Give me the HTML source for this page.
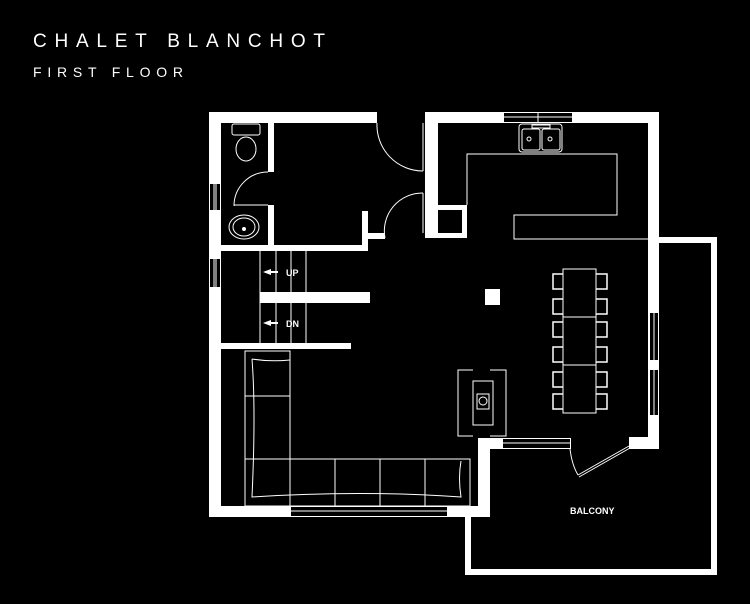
<!DOCTYPE html>
<html><head><meta charset="utf-8"><style>
html,body{margin:0;padding:0;background:#000;}
svg{display:block;}
text{font-family:"Liberation Sans",sans-serif;fill:#fff;}
</style></head><body>
<svg width="750" height="604" viewBox="0 0 750 604" xmlns="http://www.w3.org/2000/svg">
<rect width="750" height="604" fill="#000"/>
<text x="33" y="47" font-size="19" textLength="292" lengthAdjust="spacing">CHALET BLANCHOT</text>
<text x="33" y="77" font-size="14" textLength="150" lengthAdjust="spacing">FIRST FLOOR</text>

<g fill="#fff">
<!-- outer walls -->
<rect x="209" y="112" width="168" height="11"/>
<rect x="425" y="112" width="234" height="11"/>
<rect x="209" y="112" width="12" height="405"/>
<rect x="648" y="112" width="11" height="337"/>
<rect x="209" y="506" width="281" height="11"/>
<rect x="478" y="438" width="12" height="79"/>
<rect x="478" y="438" width="24" height="11"/>
<rect x="629" y="437" width="30" height="12"/>
<!-- balcony -->
<rect x="659" y="237" width="58" height="6"/>
<rect x="711" y="237" width="6" height="338"/>
<rect x="465" y="569" width="252" height="6"/>
<rect x="465" y="517" width="6" height="58"/>
<!-- interior -->
<rect x="268" y="123" width="6" height="49"/>
<rect x="268" y="205" width="6" height="40"/>
<rect x="221" y="245" width="147" height="6"/>
<rect x="362" y="211" width="6" height="40"/>
<rect x="362" y="233" width="23" height="6"/>
<rect x="425" y="123" width="13" height="115"/>
<rect x="425" y="233" width="42" height="5"/>
<rect x="462" y="205" width="5" height="33"/>
<rect x="438" y="205" width="29" height="5"/>
<rect x="260" y="292" width="110" height="11"/>
<rect x="221" y="343" width="130" height="6"/>
<rect x="485" y="289" width="15" height="16"/>
</g>
<!-- windows (black cut with lines) -->
<g fill="#000" stroke="#fff" stroke-width="1">
<rect x="209.5" y="183.5" width="11" height="27"/>
<rect x="209.5" y="258.5" width="11" height="29"/>
<rect x="503.5" y="112.5" width="69" height="10"/>
<rect x="649.5" y="312.5" width="9" height="48"/>
<rect x="649.5" y="369.5" width="9" height="46"/>
<rect x="290.5" y="506.5" width="157" height="10"/>
<rect x="502.5" y="438.5" width="68" height="10"/>
</g>
<g stroke="#fff" stroke-width="1" fill="none">
<line x1="214" y1="184" x2="214" y2="210"/><line x1="216" y1="184" x2="216" y2="210"/>
<line x1="214" y1="259" x2="214" y2="287"/><line x1="216" y1="259" x2="216" y2="287"/>
<line x1="504" y1="117" x2="572" y2="117"/><line x1="538" y1="112" x2="538" y2="123"/>
<line x1="654" y1="313" x2="654" y2="360"/><line x1="654" y1="370" x2="654" y2="415"/>
<line x1="291" y1="511" x2="447" y2="511"/>
<line x1="503" y1="443" x2="570" y2="443"/>
<!-- doors -->
<path d="M377 123 A46 46 0 0 0 423 171"/><line x1="423" y1="123" x2="423" y2="171"/>
<path d="M385 238 A38 38 0 0 1 423 193"/><line x1="423" y1="193" x2="423" y2="233"/>
<path d="M268 172 A34 34 0 0 0 234 206"/><line x1="234" y1="205" x2="268" y2="205"/>
<path d="M570 449 Q572 465 578 475"/><line x1="578" y1="475" x2="629" y2="446"/><line x1="579" y1="477" x2="630" y2="448"/>
<!-- bathroom -->
<rect x="232" y="124" width="28" height="11" rx="2"/>
<ellipse cx="246" cy="149" rx="10" ry="12"/>
<ellipse cx="244" cy="227" rx="15" ry="12"/><ellipse cx="244" cy="227" rx="11" ry="9"/>
<circle cx="244" cy="229" r="1.5" fill="#fff"/>
<!-- stairs -->
<line x1="260" y1="251" x2="260" y2="343"/><line x1="276" y1="251" x2="276" y2="343"/>
<line x1="291" y1="251" x2="291" y2="343"/><line x1="306" y1="251" x2="306" y2="343"/>
<!-- kitchen -->
<polyline points="467,205 467,154 617,154 617,215 514,215 514,239 648,239"/>
<rect x="519" y="124" width="43" height="28" rx="3"/>
<rect x="522" y="129" width="18" height="21" rx="2"/><rect x="542" y="129" width="18" height="21" rx="2"/>
<rect x="532" y="125" width="18" height="3"/>
<circle cx="529" cy="139" r="2"/><circle cx="550" cy="139" r="2"/>
<!-- dining -->
<rect x="563" y="269" width="33" height="144"/>
<line x1="563" y1="317" x2="596" y2="317"/><line x1="563" y1="365" x2="596" y2="365"/>
<!-- sofa -->
<rect x="245" y="351" width="45" height="155"/>
<rect x="245" y="459" width="225" height="47"/>
<line x1="245" y1="396" x2="290" y2="396"/>
<line x1="335" y1="459" x2="335" y2="506"/><line x1="380" y1="459" x2="380" y2="506"/><line x1="425" y1="459" x2="425" y2="506"/>
<path d="M252 359 Q256 410 252 497 Q360 490 461 497 Q458 478 461 461"/>
<path d="M252 359 Q270 362 290 360"/>
<!-- fireplace -->
<path d="M473 370 H458 V436 H473 M490 370 H506 V436 H490"/>
<rect x="473" y="381" width="20" height="44"/>
<rect x="477" y="394" width="12" height="15"/>
<circle cx="483" cy="401" r="4"/>
</g>
<g fill="none" stroke="#fff" stroke-width="1.5">
<path d="M563 274 H553 V289 H563"/><path d="M563 299 H553 V314 H563"/><path d="M563 322 H553 V337 H563"/>
<path d="M563 347 H553 V362 H563"/><path d="M563 372 H553 V387 H563"/><path d="M563 394 H553 V409 H563"/>
<path d="M596 274 H607 V289 H596"/><path d="M596 299 H607 V314 H596"/><path d="M596 322 H607 V337 H596"/>
<path d="M596 347 H607 V362 H596"/><path d="M596 372 H607 V387 H596"/><path d="M596 394 H607 V409 H596"/>
</g>
<!-- arrows & labels -->
<g fill="#fff">
<polygon points="263,272 271,269 271,275"/><rect x="270" y="271" width="8" height="2"/>
<polygon points="263,323 271,320 271,326"/><rect x="270" y="322" width="8" height="2"/>
</g>
<text x="286" y="276" font-size="9" font-weight="bold">UP</text>
<text x="286" y="327" font-size="9" font-weight="bold">DN</text>
<text x="570" y="514" font-size="9" font-weight="bold">BALCONY</text>
</svg>
</body></html>
